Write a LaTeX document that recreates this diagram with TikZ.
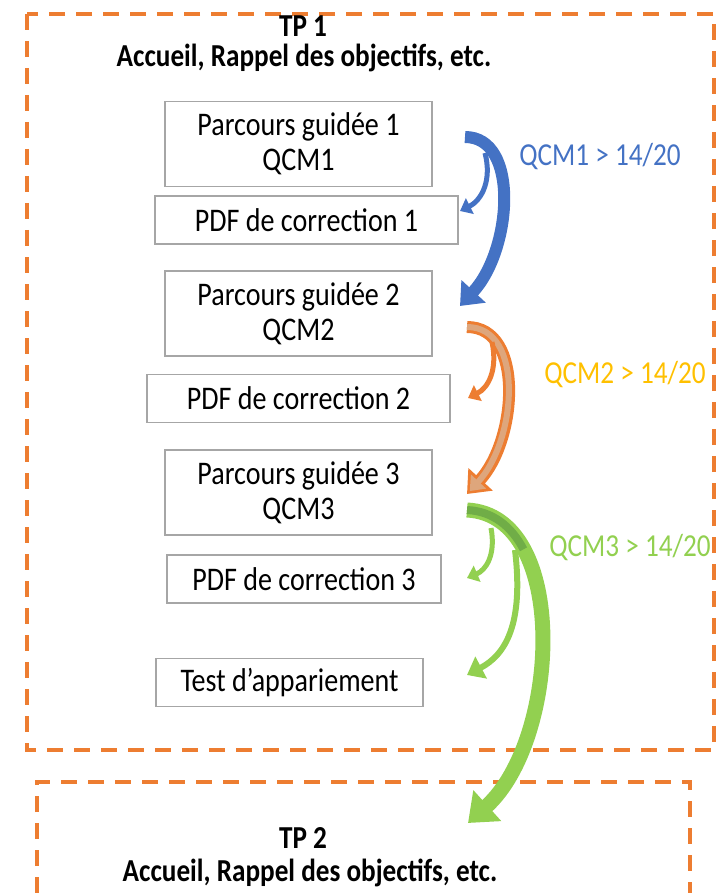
\documentclass[tikz,border=0pt]{standalone}
\usepackage{fontspec}
\setmainfont[FakeStretch=0.85]{Carlito}
\usetikzlibrary{arrows.meta}

\definecolor{tporange}{RGB}{237,125,49}
\definecolor{qblue}{RGB}{68,114,196}
\definecolor{qgold}{RGB}{255,192,0}
\definecolor{qtan}{RGB}{222,166,124}
\definecolor{qgreen}{RGB}{146,208,80}
\definecolor{qgreendark}{RGB}{112,173,71}

\tikzset{
	tpframe/.style={draw=tporange, line width=3.5pt, dash pattern=on 16pt off 11pt},
	titre/.style={font=\fontsize{32}{34}\selectfont\bfseries},
	etape/.style={draw=black!35, line width=1.2pt, minimum width=267pt, minimum height=85pt, align=center, inner sep=0pt},
	corrige/.style={draw=black!35, line width=1.2pt, minimum height=48pt, inner sep=0pt},
	seuil/.style={font=\fontsize{32}{34}\selectfont},
	grande/.style={line width=12pt, -{Triangle[length=20pt,width=32pt]}},
	petite/.style={line width=5pt, -{Triangle[length=11pt,width=17pt]}}
}

\begin{document}
\begin{tikzpicture}[x=1pt, y=-1pt, font=\fontsize{33}{35}\selectfont]
	\useasboundingbox (0,0) rectangle (719,893);

	% cadres des deux TP
	\draw[tpframe] (27,14) rectangle (714,750);
	\draw[tpframe] (37,893) |- (690,782) -- (690,893);

	\node[titre] (tp1) at (303,26) {TP 1};
	\node[titre] (acc1) at (304,58) {Accueil, Rappel des objectifs, etc.};
	\node[titre] (tp2) at (303,838) {TP 2};
	\node[titre] (acc2) at (310,873) {Accueil, Rappel des objectifs, etc.};

	% etapes du parcours
	\node[etape] (pg1) at (298.5,144) {Parcours guidée 1\\QCM1};
	\node[corrige, minimum width=303pt] (pdf1) at (306.5,220) {PDF de correction 1};
	\node[etape] (pg2) at (298.5,313.5) {Parcours guidée 2\\QCM2};
	\node[corrige, minimum width=303pt] (pdf2) at (298.5,398.5) {PDF de correction 2};
	\node[etape] (pg3) at (298.5,492.5) {Parcours guidée 3\\QCM3};
	\node[corrige, minimum width=274pt] (pdf3) at (304,579) {PDF de correction 3};
	\node[corrige, minimum width=267pt] (test) at (289.5,682.5) {Test d’appariement};

	% departs et arrivees des fleches
	\coordinate (d1) at (465,137);
	\coordinate (f1) at (460,306);
	\coordinate (b1) at (485,153);
	\coordinate (e1) at (460,211);
	\coordinate (d2) at (467,327);
	\coordinate (f2) at (467,494);
	\coordinate (b2) at (492,342);
	\coordinate (e2) at (468,398);
	\coordinate (d3) at (467,510);
	\coordinate (f3) at (468,823);
	\coordinate (b3) at (491,528);
	\coordinate (e3) at (467,578);
	\coordinate (c3) at (515,550);
	\coordinate (g3) at (467,675);

	% QCM1
	\draw[grande, qblue] (d1) .. controls (520,137) and (512,250) .. (f1);
	\draw[petite, qblue] (b1) .. controls (492,180) and (482,200) .. (e1);
	\node[seuil, text=qblue] (q1) at (600,157) {QCM1 > 14/20};

	% QCM2
	\draw[grande, tporange] (d2) .. controls (525,327) and (517,440) .. (f2);
	\draw[line width=6pt, qtan, -{Triangle[length=13pt,width=20pt]}, shorten >=4pt] (d2) .. controls (525,327) and (517,440) .. (f2);
	\draw[petite, tporange] (b2) .. controls (498,370) and (488,388) .. (e2);
	\node[seuil, text=qgold] (q2) at (625,375) {QCM2 > 14/20};

	% QCM3
	\draw[grande, qgreen, line width=15pt, -{Triangle[length=26pt,width=40pt]}] (d3) .. controls (570,515) and (560,740) .. (f3);
	\draw[line width=8pt, qgreendark] (d3) .. controls (492.75,511.25) and (511.4,526.25) .. (523.5,549.3);
	\draw[petite, qgreen] (b3) .. controls (496,555) and (486,570) .. (e3);
	\draw[petite, qgreen, line width=6pt, -{Triangle[length=16pt,width=24pt]}] (c3) .. controls (524,625) and (505,655) .. (g3);
	\node[seuil, text=qgreen] (q3) at (630,548) {QCM3 > 14/20};
\end{tikzpicture}
\end{document}
